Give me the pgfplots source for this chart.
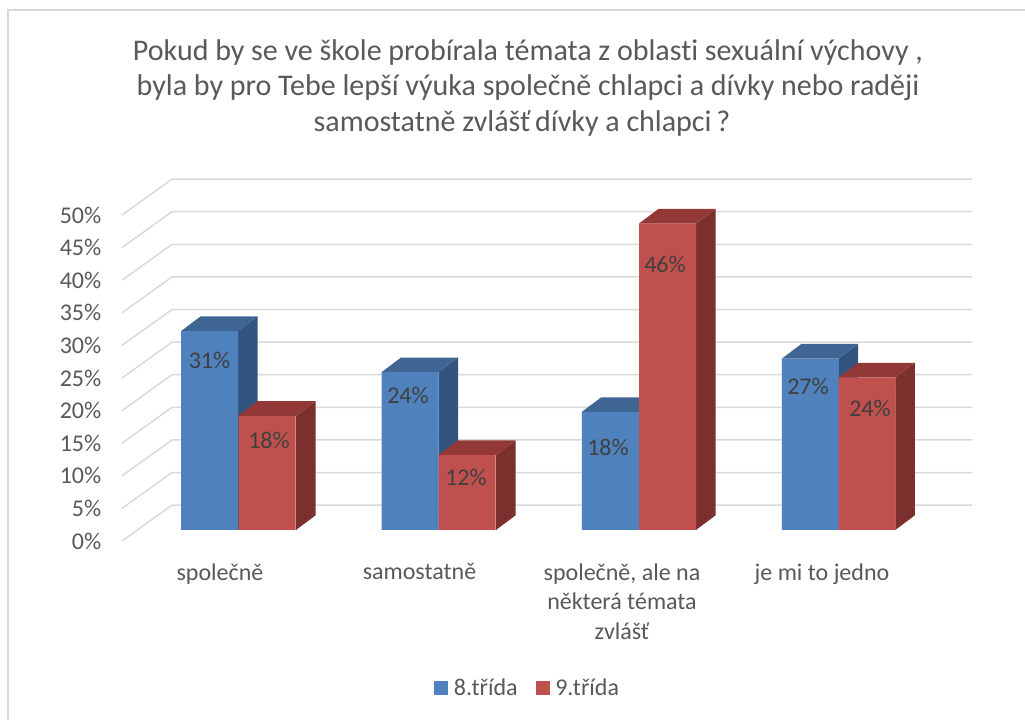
\documentclass[border=0pt]{standalone}
\usepackage{pgfplots}
\pgfplotsset{compat=1.18}
\usepackage{fontspec}
\setmainfont[Ligatures=NoCommon]{Carlito}
\definecolor{gridc}{HTML}{D9D9D9}
\definecolor{txt}{HTML}{595959}
\definecolor{lab}{HTML}{404040}
\definecolor{bluef}{HTML}{4F81BD}
\definecolor{bluet}{HTML}{3F6693}
\definecolor{blues}{HTML}{335380}
\definecolor{redf}{HTML}{C0504D}
\definecolor{redt}{HTML}{923937}
\definecolor{reds}{HTML}{7C302E}
\pgfplotsset{sq/.style={legend image code/.code={\fill[#1] (0pt,-5.25pt) rectangle (10.5pt,5.25pt);\path (12.75pt,0pt);}}}
\begin{document}
\begin{tikzpicture}[x=0.75pt,y=0.75pt]
\path[use as bounding box,fill=white] (0,0) rectangle (1025,720);
\draw[gridc,line width=1.4pt] (1025,710) -- (8,710) -- (8,0);
\node[align=center,text=txt,font=\fontsize{22.5pt}{26.6pt}\selectfont] at (528,632) {Pokud by se ve škole probírala témata z oblasti sexuální výchovy ,\\byla by pro Tebe lepší výuka společně chlapci a dívky nebo raději\\samostatně zvlášť\kern-1.5pt{} dívky a chlapci\kern-1.5pt{} ?\hspace*{9pt}};
% grid axis
\begin{axis}[name=grid,at={(91.5pt,134.25pt)},anchor=south west,scale only axis,width=637.5pt,height=244.5pt,
  xmin=122,xmax=972,ymin=0,ymax=50,clip=false,axis line style={draw=none},major tick length=0pt,
  xtick={220,419.5,622,822},
  xticklabels={společně,samostatně,{společně, ale na\\některá témata\\zvlášť},je mi to jedno},
  xticklabel style={align=center,text=txt,font=\fontsize{18pt}{22pt}\selectfont,yshift=-13.5pt},
  ytick={0,5,...,50},
  yticklabel={\pgfmathprintnumber{\tick}\%},
  yticklabel style={text=txt,font=\fontsize{18pt}{20pt}\selectfont,xshift=-12pt},
  /pgf/number format/assume math mode=true]
\addplot[gridc,line width=1.1pt] coordinates {(122,0)(172,5.5)(972,5.5)};
\addplot[gridc,line width=1.1pt] coordinates {(122,5)(172,10.5)(972,10.5)};
\addplot[gridc,line width=1.1pt] coordinates {(122,10)(172,15.5)(972,15.5)};
\addplot[gridc,line width=1.1pt] coordinates {(122,15)(172,20.5)(972,20.5)};
\addplot[gridc,line width=1.1pt] coordinates {(122,20)(172,25.5)(972,25.5)};
\addplot[gridc,line width=1.1pt] coordinates {(122,25)(172,30.5)(972,30.5)};
\addplot[gridc,line width=1.1pt] coordinates {(122,30)(172,35.5)(972,35.5)};
\addplot[gridc,line width=1.1pt] coordinates {(122,35)(172,40.5)(972,40.5)};
\addplot[gridc,line width=1.1pt] coordinates {(122,40)(172,45.5)(972,45.5)};
\addplot[gridc,line width=1.1pt] coordinates {(122,45)(172,50.5)(972,50.5)};
\addplot[gridc,line width=1.1pt] coordinates {(122,50)(172,55.5)(972,55.5)};
\end{axis}
% bars axis
\begin{axis}[at={(91.5pt,142.5pt)},anchor=south west,scale only axis,width=637.5pt,height=244.5pt,
  xmin=122,xmax=972,ymin=0,ymax=50,clip=false,hide axis,
  legend style={draw=none,fill=none,at={(0.367,-0.484)},anchor=west,font=\fontsize{18pt}{20pt}\selectfont,text=txt,legend columns=2,/tikz/every even column/.append style={column sep=11.5pt},inner sep=0pt}]
% blue sides and tops
\addplot[forget plot,fill=blues,draw=none] coordinates {(238,0)(257.5,2.25)(257.5,32.75)(238,30.5)} -- cycle;
\addplot[forget plot,fill=bluet,draw=none] coordinates {(181,30.5)(238,30.5)(257.5,32.75)(200.5,32.75)} -- cycle;
\addplot[forget plot,fill=blues,draw=none] coordinates {(438.5,0)(458,2.25)(458,26.45)(438.5,24.2)} -- cycle;
\addplot[forget plot,fill=bluet,draw=none] coordinates {(381.5,24.2)(438.5,24.2)(458,26.45)(401,26.45)} -- cycle;
\addplot[forget plot,fill=blues,draw=none] coordinates {(639,0)(658.5,2.25)(658.5,20.35)(639,18.1)} -- cycle;
\addplot[forget plot,fill=bluet,draw=none] coordinates {(581.7,18.1)(639,18.1)(658.5,20.35)(601.2,20.35)} -- cycle;
\addplot[forget plot,fill=blues,draw=none] coordinates {(838.7,0)(858.2,2.25)(858.2,28.55)(838.7,26.3)} -- cycle;
\addplot[forget plot,fill=bluet,draw=none] coordinates {(782,26.3)(838.7,26.3)(858.2,28.55)(801.5,28.55)} -- cycle;
% blue fronts
\addplot[ybar,bar width=57,bar shift=0pt,fill=bluef,draw=none,sq=bluef] coordinates {(209.5,30.5)(410,24.2)(610.3,18.1)(810.4,26.3)};
\addlegendentry{8.třída}
% red sides and tops
\addplot[forget plot,fill=reds,draw=none] coordinates {(296,0)(315.5,2.25)(315.5,19.75)(296,17.5)} -- cycle;
\addplot[forget plot,fill=redt,draw=none] coordinates {(238,17.5)(296,17.5)(315.5,19.75)(257.5,19.75)} -- cycle;
\addplot[forget plot,fill=reds,draw=none] coordinates {(496,0)(515.5,2.25)(515.5,13.75)(496,11.5)} -- cycle;
\addplot[forget plot,fill=redt,draw=none] coordinates {(438.5,11.5)(496,11.5)(515.5,13.75)(458,13.75)} -- cycle;
\addplot[forget plot,fill=reds,draw=none] coordinates {(696,0)(715.5,2.25)(715.5,49.25)(696,47)} -- cycle;
\addplot[forget plot,fill=redt,draw=none] coordinates {(639,47)(696,47)(715.5,49.25)(658.5,49.25)} -- cycle;
\addplot[forget plot,fill=reds,draw=none] coordinates {(895.3,0)(914.8,2.25)(914.8,25.65)(895.3,23.4)} -- cycle;
\addplot[forget plot,fill=redt,draw=none] coordinates {(838.7,23.4)(895.3,23.4)(914.8,25.65)(858.2,25.65)} -- cycle;
% red fronts
\addplot[ybar,bar width=57,bar shift=0pt,fill=redf,draw=none,sq=redf] coordinates {(267,17.5)(467.2,11.5)(667.5,47)(867,23.4)};
\addlegendentry{9.třída}
% data labels
\foreach \xx/\yy/\tt in {209.5/26/31\%,269/13.8/18\%,408/20.7/24\%,466/8.1/12\%,608/12.6/18\%,665/40.7/46\%,808/22/27\%,870/18.7/24\%}{
  \edef\temp{\noexpand\node[text=lab,font=\noexpand\fontsize{18pt}{20pt}\noexpand\selectfont] at (axis cs:\xx,\yy) {\tt};}
  \temp
}
\end{axis}
\end{tikzpicture}
\end{document}
